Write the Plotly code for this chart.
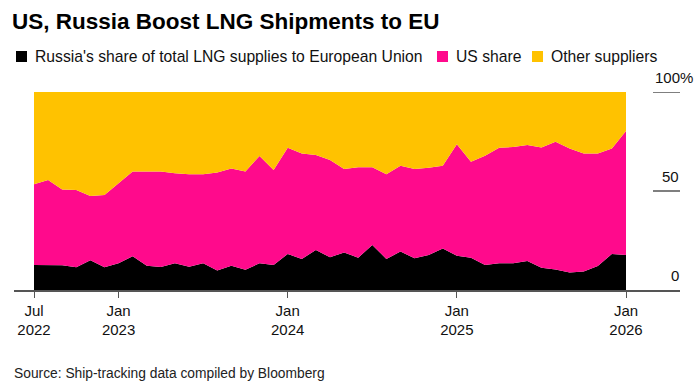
import plotly.graph_objects as go

# Monthly, Jul 2022 .. Jan 2026 (43 months), shares in %
months = ["2022-07","2022-08","2022-09","2022-10","2022-11","2022-12",
          "2023-01","2023-02","2023-03","2023-04","2023-05","2023-06",
          "2023-07","2023-08","2023-09","2023-10","2023-11","2023-12",
          "2024-01","2024-02","2024-03","2024-04","2024-05","2024-06",
          "2024-07","2024-08","2024-09","2024-10","2024-11","2024-12",
          "2025-01","2025-02","2025-03","2025-04","2025-05","2025-06",
          "2025-07","2025-08","2025-09","2025-10","2025-11","2025-12",
          "2026-01"]
russia = [12.6, 12.6, 12.5, 11.5, 15.0, 11.5, 13.5, 17.0, 12.3, 11.6, 13.5, 11.8,
          13.5, 9.8, 12.3, 10.2, 13.5, 12.6, 18.2, 15.7, 20.2, 16.5, 19.0, 16.3,
          22.7, 15.7, 19.4, 16.0, 17.7, 21.0, 17.3, 16.3, 12.6, 13.5, 13.5, 14.6,
          11.3, 10.4, 8.8, 9.3, 12.1, 18.2, 17.7]
us = [40.8, 43.0, 38.3, 39.0, 32.5, 36.5, 40.4, 42.8, 47.5, 48.2, 45.5, 46.7,
      44.9, 49.6, 49.1, 49.6, 54.2, 48.0, 53.7, 53.3, 48.0, 49.2, 42.1, 45.7,
      39.3, 42.8, 43.4, 45.1, 44.1, 41.8, 56.3, 48.5, 55.2, 58.4, 58.7, 58.6,
      60.7, 64.5, 62.7, 59.7, 56.9, 53.3, 62.6]
other = [46.6, 44.4, 49.2, 49.5, 52.5, 52.0, 46.1, 40.2, 40.2, 40.2, 41.0, 41.5,
         41.6, 40.6, 38.6, 40.2, 32.3, 39.4, 28.1, 31.0, 31.8, 34.3, 38.9, 38.0,
         38.0, 41.5, 37.2, 38.9, 38.2, 37.2, 26.4, 35.2, 32.2, 28.1, 27.8, 26.8,
         28.0, 25.1, 28.5, 31.0, 31.0, 28.5, 19.7]
tick_months = ["2022-07", "2023-01", "2024-01", "2025-01", "2026-01"]
tick_text = ["Jul<br>2022", "Jan<br>2023", "Jan<br>2024", "Jan<br>2025", "Jan<br>2026"]
y_ticks = [100, 50, 0]
y_tick_text = ["100%", "50", "0"]

series_names = ["Russia's share of total LNG supplies to European Union", "US share", "Other suppliers"]
colors = ["#000000", "#FF0A8C", "#FFC200"]

idx = list(range(len(months)))
tick_idx = [months.index(m) for m in tick_months]

W, H = 700, 388
L, R, T, B = 14, 20, 92, 98
PW, PH = W - L - R, H - T - B

def px_x(p):
    return (p - L) / PW

def px_y(p):
    return (H - B - p) / PH

FONT = "Liberation Sans"

fig = go.Figure()
for name, vals, col in zip(series_names, [russia, us, other], colors):
    fig.add_trace(go.Scatter(
        x=idx, y=vals, name=name, mode="lines", stackgroup="one",
        line=dict(width=0, color=col), fillcolor=col, showlegend=False,
        hovertemplate="%{y:.1f}%<extra>" + name + "</extra>"))

ppm = (626 - 34) / 42.0
x0 = -(34 - L) / ppm
x1 = 42 + (W - R - 626) / ppm

fig.update_layout(
    width=W, height=H,
    margin=dict(l=L, r=R, t=T, b=B, autoexpand=False),
    paper_bgcolor="white", plot_bgcolor="white",
    font=dict(family=FONT, color="#111111"),
    title=dict(text="<b>US, Russia Boost LNG Shipments to EU</b>",
               x=12 / W, xref="container", xanchor="left",
               y=1 - 21 / H, yref="container", yanchor="middle",
               font=dict(size=22.5, family=FONT, color="#000000")),
    xaxis=dict(range=[x0, x1], tickvals=tick_idx, ticktext=tick_text,
               showgrid=False, zeroline=False, showline=True,
               linecolor="#555555", linewidth=1.5,
               ticks="outside", ticklen=6, tickwidth=1.2, tickcolor="#555555",
               tickfont=dict(size=15, family=FONT, color="#111111")),
    yaxis=dict(range=[0, 100], showticklabels=False, showgrid=False,
               zeroline=False, showline=False, fixedrange=True),
    hovermode="x unified",
)

# Right-side tick labels and short grid segments
for v, t in zip(y_ticks, y_tick_text):
    if v > 0:
        fig.add_shape(type="line", xref="paper", yref="y",
                      x0=px_x(653), x1=px_x(680), y0=v, y1=v,
                      line=dict(color="#555555", width=1.5))
    right_px = 695 if t.endswith("%") else 681
    fig.add_annotation(xref="paper", yref="y", x=px_x(right_px), y=v, yshift=14.5,
                       text=t, showarrow=False, xanchor="right", yanchor="middle",
                       font=dict(size=15, family=FONT, color="#111111"))

# Custom legend
legend_items = [(16, 33), (437, 454), (532, 549)]
for (sq, tx), name, col in zip(legend_items, series_names, colors):
    fig.add_shape(type="rect", xref="paper", yref="paper",
                  x0=px_x(sq), x1=px_x(sq + 11), y0=px_y(51), y1=px_y(62),
                  fillcolor=col, line=dict(width=0))
    fig.add_annotation(xref="paper", yref="paper", x=px_x(tx), y=px_y(56.5),
                       text=name, showarrow=False, xanchor="left", yanchor="middle",
                       font=dict(size=15.7, family=FONT, color="#111111"))

# Source
fig.add_annotation(xref="paper", yref="paper", x=px_x(12), y=px_y(373),
                   text="Source: Ship-tracking data compiled by Bloomberg",
                   showarrow=False, xanchor="left", yanchor="middle",
                   font=dict(size=13.8, family=FONT, color="#222222"))

fig.write_html("out.html", config={"displayModeBar": False},
               post_script="document.body.style.margin='0';")
